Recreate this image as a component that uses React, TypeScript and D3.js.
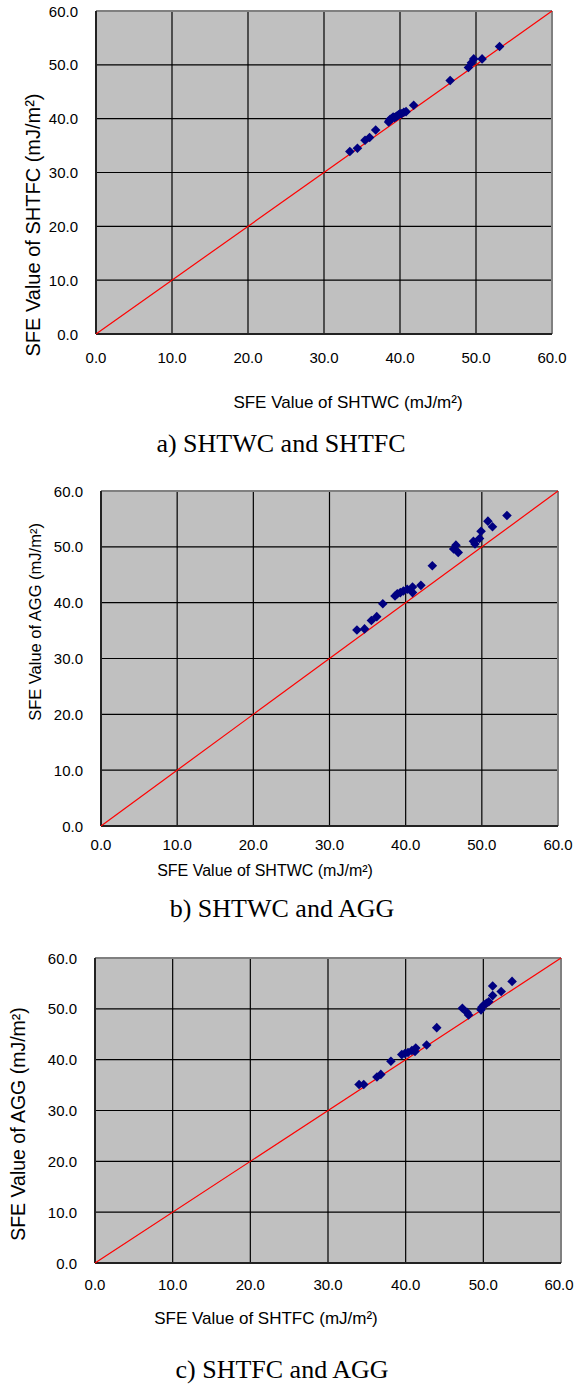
import React from "react";
import * as d3 from "d3";

// ---- data ----
const TICKS = [0, 10, 20, 30, 40, 50, 60];
const TICK_LABELS = ["0.0", "10.0", "20.0", "30.0", "40.0", "50.0", "60.0"];
const REF_LINE = [0, 60];

// a) SHTWC (x) vs SHTFC (y)
const A_X = [33.4, 34.4, 35.4, 36.0, 36.8, 38.5, 38.6, 38.7, 38.9, 39.1, 39.3, 39.5, 39.6, 39.8, 40.0, 40.2, 40.5, 40.8, 41.8, 46.6, 49.0, 49.4, 49.7, 50.8, 53.1];
const A_Y = [33.9, 34.5, 36.0, 36.5, 37.9, 39.4, 39.6, 39.9, 40.0, 40.3, 40.2, 40.4, 40.5, 40.7, 40.9, 40.9, 41.2, 41.3, 42.5, 47.1, 49.5, 50.4, 51.1, 51.1, 53.4];

// b) SHTWC (x) vs AGG (y)
const B_X = [33.6, 34.6, 35.5, 36.2, 37.0, 38.6, 38.9, 39.3, 39.7, 40.2, 40.9, 40.9, 42.0, 43.5, 46.3, 46.6, 46.9, 48.9, 49.1, 49.7, 49.9, 50.8, 51.4, 53.3];
const B_Y = [35.1, 35.3, 36.8, 37.5, 39.8, 41.2, 41.6, 41.8, 42.1, 42.4, 42.8, 41.8, 43.1, 46.6, 49.6, 50.3, 49.0, 51.0, 50.5, 51.5, 52.8, 54.6, 53.6, 55.6];

// c) SHTFC (x) vs AGG (y)
const C_X = [34.0, 34.6, 36.3, 36.8, 38.1, 39.5, 39.9, 40.3, 40.8, 41.3, 41.2, 42.7, 44.0, 47.3, 47.9, 48.1, 49.7, 49.8, 50.1, 50.4, 50.7, 51.2, 51.2, 52.3, 53.7];
const C_Y = [35.1, 35.1, 36.6, 37.1, 39.7, 41.0, 41.2, 41.4, 41.8, 42.3, 41.6, 42.9, 46.3, 50.1, 49.3, 48.8, 49.8, 50.3, 50.8, 51.1, 51.4, 52.6, 54.5, 53.4, 55.4];

const X_TITLES = ["SFE Value of SHTWC (mJ/m\u00B2)", "SFE Value of SHTWC (mJ/m\u00B2)", "SFE Value of SHTFC (mJ/m\u00B2)"];
const Y_TITLES = ["SFE Value of SHTFC (mJ/m\u00B2)", "SFE Value of AGG (mJ/m\u00B2)", "SFE Value of AGG (mJ/m\u00B2)"];
const CAPTIONS = ["a) SHTWC and SHTFC", "b) SHTWC and AGG", "c) SHTFC and AGG"];

// ---- layout ----
const LAYOUTS = [
  { left: 96, top: 11, right: 552, bottom: 334, yLabelX: 78, xLabelY: 363, xt: { x: 348, y: 408, s: 17 }, yt: { x: 33, y: 225, s: 20 }, cap: { x: 281, y: 452 } },
  { left: 101, top: 491, right: 558, bottom: 826, yLabelX: 83, xLabelY: 850, xt: { x: 265, y: 876, s: 16 }, yt: { x: 35, y: 622, s: 16.5 }, cap: { x: 282, y: 917 } },
  { left: 95, top: 958, right: 561, bottom: 1263, yLabelX: 77, xLabelY: 1290, xt: { x: 266, y: 1324, s: 17 }, yt: { x: 18, y: 1124, s: 19.5 }, cap: { x: 282, y: 1378 } },
];

const SANS = "'Liberation Sans', Arial, sans-serif";
const NARROW = "'Liberation Sans Narrow', 'Arial Narrow', 'Liberation Sans', sans-serif";
const SERIF = "'Liberation Serif', 'Times New Roman', serif";
const PAGE_W = 574;

const diamond = d3.symbol().type(d3.symbolSquare).size(46)();

function Panel({ xs, ys, L, xTitle, yTitle, caption }: any) {
  const x = d3.scaleLinear().domain([0, 60]).range([L.left, L.right]);
  const y = d3.scaleLinear().domain([0, 60]).range([L.bottom, L.top]);
  const line = d3.line<number>().x((d) => x(d)).y((d) => y(d));
  return (
    <g>
      <rect x={L.left} y={L.top} width={L.right - L.left} height={L.bottom - L.top} fill="#c0c0c0" />
      {TICKS.slice(1, -1).map((t) => (
        <line key={"v" + t} x1={x(t)} x2={x(t)} y1={L.top} y2={L.bottom} stroke="#000" strokeWidth={1.2} />
      ))}
      {TICKS.slice(1, -1).map((t) => (
        <line key={"h" + t} x1={L.left} x2={L.right} y1={y(t)} y2={y(t)} stroke="#000" strokeWidth={1.2} />
      ))}
      <line x1={L.left} x2={L.right} y1={L.top} y2={L.top} stroke="#808080" strokeWidth={2} />
      <line x1={L.right} x2={L.right} y1={L.top} y2={L.bottom} stroke="#808080" strokeWidth={2} />
      <line x1={L.left} x2={L.left} y1={L.top} y2={L.bottom} stroke="#222" strokeWidth={2} />
      <line x1={L.left} x2={L.right} y1={L.bottom} y2={L.bottom} stroke="#222" strokeWidth={2} />
      <path d={line(REF_LINE) || ""} stroke="#ff0000" strokeWidth={1.2} fill="none" />
      {xs.map((v: number, i: number) => (
        <path key={i} d={diamond || ""} transform={`translate(${x(v)},${y(ys[i])}) rotate(45)`} fill="#000080" />
      ))}
      {TICKS.map((t, i) => (
        <text key={"yl" + t} x={L.yLabelX} y={y(t)} textAnchor="end" dominantBaseline="central" fontFamily={NARROW} fontSize={15} fill="#000">
          {TICK_LABELS[i]}
        </text>
      ))}
      {TICKS.map((t, i) => (
        <text key={"xl" + t} x={Math.min(x(t), PAGE_W - 15)} y={L.xLabelY} textAnchor="middle" fontFamily={NARROW} fontSize={15} fill="#000">
          {TICK_LABELS[i]}
        </text>
      ))}
      <text x={L.xt.x} y={L.xt.y} textAnchor="middle" fontFamily={SANS} fontSize={L.xt.s} fill="#000">
        {xTitle}
      </text>
      <text transform={`translate(${L.yt.x},${L.yt.y}) rotate(-90)`} textAnchor="middle" dominantBaseline="central" fontFamily={SANS} fontSize={L.yt.s} fill="#000">
        {yTitle}
      </text>
      <text x={L.cap.x} y={L.cap.y} textAnchor="middle" fontFamily={SERIF} fontSize={26} fill="#000">
        {caption}
      </text>
    </g>
  );
}

export default function App() {
  const sets = [
    [A_X, A_Y],
    [B_X, B_Y],
    [C_X, C_Y],
  ];
  return (
    <svg width={574} height={1388} style={{ position: "absolute", left: 0, top: 0, background: "#fff" }}>
      <rect x={0} y={0} width={574} height={1388} fill="#fff" />
      {sets.map(([xs, ys], i) => (
        <Panel key={i} xs={xs} ys={ys} L={LAYOUTS[i]} xTitle={X_TITLES[i]} yTitle={Y_TITLES[i]} caption={CAPTIONS[i]} />
      ))}
    </svg>
  );
}
